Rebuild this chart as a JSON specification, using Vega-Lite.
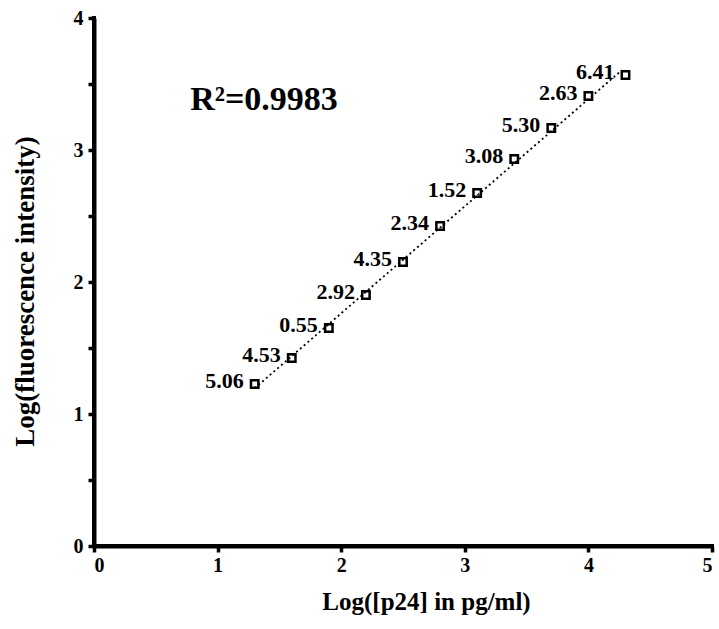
{
  "$schema": "https://vega.github.io/schema/vega-lite/v6.json",
  "width": 618,
  "height": 528,
  "autosize": "none",
  "padding": {"left": 94, "top": 18, "right": 7, "bottom": 83},
  "background": "white",
  "config": {
    "view": {"stroke": null},
    "font": "Liberation Serif",
    "axis": {
      "grid": false,
      "domainColor": "black",
      "domainWidth": 4,
      "tickColor": "black",
      "tickWidth": 3.5,
      "tickSize": 6,
      "labelFont": "Liberation Serif",
      "labelFontWeight": "bold",
      "labelFontSize": 20,
      "labelColor": "black",
      "titleFont": "Liberation Serif",
      "titleFontWeight": "bold",
      "titleColor": "black"
    }
  },
  "datasets": {
    "pts": [
      {"x": 1.3, "y": 1.227, "label": "5.06"},
      {"x": 1.6, "y": 1.424, "label": "4.53"},
      {"x": 1.9, "y": 1.652, "label": "0.55"},
      {"x": 2.2, "y": 1.902, "label": "2.92"},
      {"x": 2.5, "y": 2.152, "label": "4.35"},
      {"x": 2.8, "y": 2.424, "label": "2.34"},
      {"x": 3.1, "y": 2.674, "label": "1.52"},
      {"x": 3.4, "y": 2.932, "label": "3.08"},
      {"x": 3.7, "y": 3.167, "label": "5.30"},
      {"x": 4.0, "y": 3.409, "label": "2.63"},
      {"x": 4.3, "y": 3.568, "label": "6.41"}
    ],
    "note": [
      {"x": 1.375, "y": 3.38, "text": "R²=0.9983"}
    ],
    "axesLines": [
      {"x": 0, "x2": 0, "y": 0, "y2": 4},
      {"x": 0, "x2": 5, "y": 0, "y2": 0}
    ]
  },
  "layer": [
    {
      "data": {"name": "pts"},
      "transform": [{"regression": "y", "on": "x", "extent": [1.3, 4.27]}],
      "mark": {"type": "line", "color": "black", "strokeWidth": 1.8, "strokeDash": [2, 3]},
      "encoding": {
        "x": {
          "field": "x", "type": "quantitative",
          "scale": {"domain": [0, 5], "nice": false, "zero": false},
          "axis": {
            "values": [0, 1, 2, 3, 4, 5], "format": "d",
            "title": "Log([p24] in pg/ml)", "titleFontSize": 25,
            "titleX": 332, "titleAlign": "center",
            "titlePadding": 14, "labelPadding": 3,
            "domainWidth": 4, "domainColor": "black"
          }
        },
        "y": {
          "field": "y", "type": "quantitative",
          "scale": {"domain": [0, 4], "nice": false, "zero": false},
          "axis": {
            "values": [0, 0.5, 1, 1.5, 2, 2.5, 3, 3.5, 4],
            "labelExpr": "datum.value % 1 === 0 ? format(datum.value, 'd') : ''",
            "title": "Log(fluorescence intensity)", "titleFontSize": 27,
            "titleY": 273, "titleAlign": "center",
            "titlePadding": 34, "labelPadding": 5,
            "domainWidth": 4, "domainColor": "black"
          }
        }
      }
    },
    {
      "data": {"name": "axesLines"},
      "mark": {"type": "rule", "color": "black", "strokeWidth": 4, "strokeCap": "square"},
      "encoding": {
        "x": {"field": "x", "type": "quantitative"},
        "x2": {"field": "x2"},
        "y": {"field": "y", "type": "quantitative"},
        "y2": {"field": "y2"}
      }
    },
    {
      "data": {"name": "pts"},
      "mark": {"type": "point", "shape": "square", "filled": false, "color": "black", "strokeWidth": 2.5, "size": 55, "opacity": 1},
      "encoding": {
        "x": {"field": "x", "type": "quantitative"},
        "y": {"field": "y", "type": "quantitative"}
      }
    },
    {
      "data": {"name": "pts"},
      "mark": {"type": "text", "align": "right", "baseline": "middle", "dx": -11, "dy": -3, "font": "Liberation Serif", "fontWeight": "bold", "fontSize": 22, "color": "black"},
      "encoding": {
        "x": {"field": "x", "type": "quantitative"},
        "y": {"field": "y", "type": "quantitative"},
        "text": {"field": "label"}
      }
    },
    {
      "data": {"name": "note"},
      "mark": {"type": "text", "align": "center", "baseline": "middle", "font": "Liberation Serif", "fontWeight": "bold", "fontSize": 34, "color": "black"},
      "encoding": {
        "x": {"field": "x", "type": "quantitative"},
        "y": {"field": "y", "type": "quantitative"},
        "text": {"field": "text"}
      }
    }
  ]
}
